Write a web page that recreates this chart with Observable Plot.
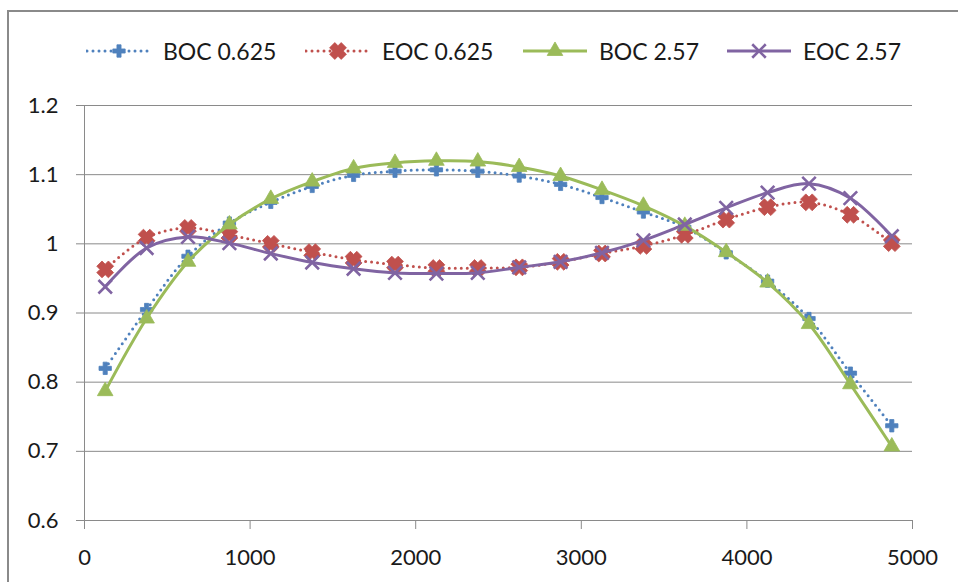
<!DOCTYPE html>
<html>
<head>
<meta charset="utf-8">
<script src="https://cdn.jsdelivr.net/npm/d3@7"></script>
<script src="https://cdn.jsdelivr.net/npm/@observablehq/plot@0.6"></script>
<style>
  html, body { margin: 0; padding: 0; background: #fff; }
  #wrap { position: relative; width: 958px; height: 582px; overflow: hidden; font-family: Lato, "Open Sans", sans-serif; color: #1a1a1a; }
  #frame { position: absolute; left: 7px; top: 10px; width: 1000px; height: 1000px; border: 2px solid #8a8a8a; box-sizing: border-box; }
  #legend { position: absolute; left: 0; top: 0; width: 958px; height: 80px; font-size: 23px; }
  .item { position: absolute; top: 38px; height: 26px; display: flex; align-items: center; white-space: nowrap; }
  .item svg { margin-right: 11px; }
  #chart { position: absolute; left: 0; top: 80px; }
</style>
</head>
<body>
<div id="wrap">
  <div id="frame"></div>
  <div id="legend"></div>
  <div id="chart"></div>
</div>
<script>
// ---- data ----
const xValues = [125, 375, 625, 875, 1125, 1375, 1625, 1875, 2125, 2375, 2625, 2875, 3125, 3375, 3625, 3875, 4125, 4375, 4625, 4875];
const boc0625 = [0.820, 0.905, 0.982, 1.030, 1.060, 1.083, 1.099, 1.105, 1.107, 1.105, 1.098, 1.086, 1.067, 1.046, 1.024, 0.987, 0.946, 0.892, 0.813, 0.737];
const eoc0625 = [0.963, 1.009, 1.023, 1.013, 1.000, 0.988, 0.977, 0.970, 0.965, 0.965, 0.966, 0.974, 0.986, 0.997, 1.013, 1.035, 1.053, 1.060, 1.042, 1.001];
const boc257  = [0.787, 0.892, 0.974, 1.028, 1.065, 1.090, 1.109, 1.117, 1.120, 1.119, 1.111, 1.098, 1.078, 1.055, 1.026, 0.988, 0.944, 0.884, 0.797, 0.707];
const eoc257  = [0.938, 0.994, 1.010, 1.001, 0.986, 0.973, 0.964, 0.958, 0.957, 0.958, 0.966, 0.974, 0.987, 1.005, 1.028, 1.052, 1.074, 1.087, 1.066, 1.011];
const seriesNames = ["BOC 0.625", "EOC 0.625", "BOC 2.57", "EOC 2.57"];
const xTicks = [0, 1000, 2000, 3000, 4000, 5000];
const xTickLabels = ["0", "1000", "2000", "3000", "4000", "5000"];
const yTicks = [0.6, 0.7, 0.8, 0.9, 1.0, 1.1, 1.2];
const yTickLabels = ["0.6", "0.7", "0.8", "0.9", "1", "1.1", "1.2"];

// ---- custom symbol: thick diagonal cross ----
const thickX = {
  draw(ctx, size) {
    const e = Math.sqrt(size) * 0.8, w = e * 0.45;
    const pts = [[-w,-e],[w,-e],[w,-w],[e,-w],[e,w],[w,w],[w,e],[-w,e],[-w,w],[-e,w],[-e,-w],[-w,-w]]
      .map(([x, y]) => [(x - y) / Math.SQRT2, (x + y) / Math.SQRT2]);
    ctx.moveTo(pts[0][0], pts[0][1]);
    for (let i = 1; i < pts.length; i++) ctx.lineTo(pts[i][0], pts[i][1]);
    ctx.closePath();
  }
};

const styles = [
  {color: "#4F81BD", dash: "0,6", cap: "round", symbol: "cross", r: 5.2, filled: true},
  {color: "#C0504D", dash: "0,6", cap: "round", symbol: thickX, r: 5.8, filled: true},
  {color: "#9BBB59", dash: null, cap: "butt", symbol: "triangle", r: 5.8, filled: true},
  {color: "#8064A2", dash: null, cap: "butt", symbol: "times", r: 6.2, filled: false}
];
const legendLeft = [86, 305, 522, 726];
const seriesValues = [boc0625, eoc0625, boc257, eoc257];

const seriesData = seriesValues.map((vals, s) => vals.map((v, i) => ({x: xValues[i], y: v, series: seriesNames[s]})));

const marks = [
  Plot.gridY(yTicks.filter(t => t > 0.6), {stroke: "#8a8a8a", strokeOpacity: 1, strokeWidth: 1}),
  Plot.ruleX([0], {stroke: "#8a8a8a", strokeWidth: 1}),
  Plot.ruleY([0.6], {stroke: "#8a8a8a", strokeWidth: 1}),
  Plot.axisY({ticks: yTicks, tickFormat: d => yTickLabels[yTicks.indexOf(d)], tickSize: 8, tickPadding: 18, stroke: "#8a8a8a", label: null}),
  Plot.axisX({ticks: xTicks, tickFormat: d => xTickLabels[xTicks.indexOf(d)], tickSize: 9, tickPadding: 20, stroke: "#8a8a8a", label: null})
];

seriesData.forEach((data, s) => {
  const st = styles[s];
  marks.push(Plot.line(data, {x: "x", y: "y", stroke: st.color, strokeWidth: 3, strokeDasharray: st.dash, strokeLinecap: st.cap, curve: "catmull-rom"}));
  if (st.filled) {
    marks.push(Plot.dot(data, {x: "x", y: "y", symbol: st.symbol, r: st.r, fill: st.color, stroke: st.color, strokeWidth: 0.8}));
  } else {
    marks.push(Plot.dot(data, {x: "x", y: "y", symbol: st.symbol, r: st.r, stroke: st.color, strokeWidth: 2.6, fill: "none"}));
  }
});

const chart = Plot.plot({
  width: 958,
  height: 502,
  marginLeft: 84,
  marginRight: 46,
  marginTop: 25,
  marginBottom: 62,
  x: {domain: [0, 5000]},
  y: {domain: [0.6, 1.2]},
  style: {fontFamily: "Lato, 'Open Sans', sans-serif", fontSize: "22px", color: "#1a1a1a", background: "transparent"},
  marks
});
document.getElementById("chart").appendChild(chart);

// ---- legend ----
const legend = document.getElementById("legend");
seriesNames.forEach((name, s) => {
  const st = styles[s];
  const item = document.createElement("div");
  item.className = "item";
  item.style.left = legendLeft[s] + "px";
  const w = 66, h = 24;
  const svg = d3.create("svg").attr("width", w).attr("height", h);
  svg.append("line").attr("x1", 1).attr("x2", w - 1).attr("y1", h / 2).attr("y2", h / 2)
    .attr("stroke", st.color).attr("stroke-width", 3).attr("stroke-dasharray", st.dash).attr("stroke-linecap", st.cap);
  const symType = typeof st.symbol === "string"
    ? {cross: d3.symbolCross, triangle: d3.symbolTriangle, times: d3.symbolTimes}[st.symbol]
    : st.symbol;
  const path = d3.symbol(symType, Math.PI * st.r * st.r)();
  const p = svg.append("path").attr("d", path).attr("transform", `translate(${w / 2},${h / 2})`);
  if (st.filled) p.attr("fill", st.color).attr("stroke", st.color).attr("stroke-width", 0.8);
  else p.attr("fill", "none").attr("stroke", st.color).attr("stroke-width", 2.6);
  item.appendChild(svg.node());
  const label = document.createElement("span");
  label.textContent = name;
  item.appendChild(label);
  legend.appendChild(item);
});
</script>
</body>
</html>
